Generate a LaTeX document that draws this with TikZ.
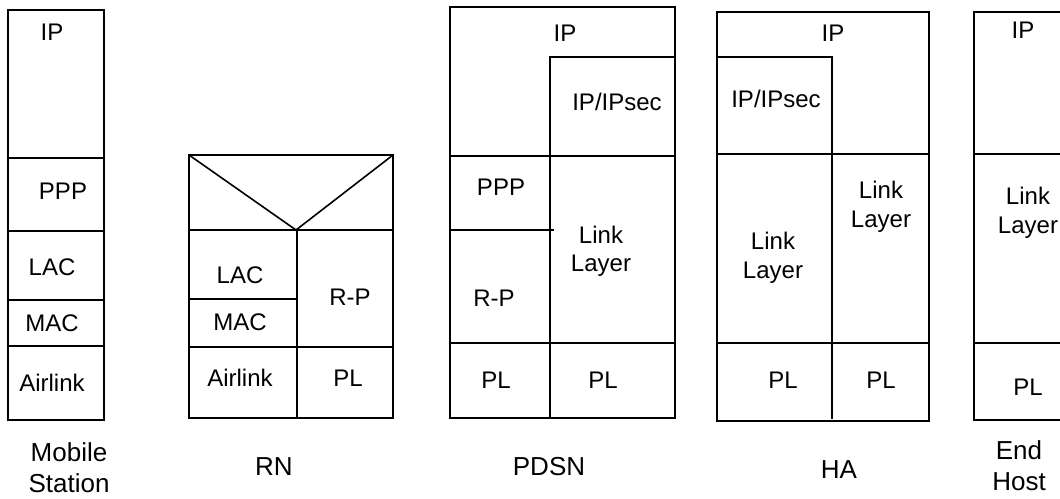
\documentclass[tikz,border=0pt]{standalone}
\usepackage{fontspec}
\setmainfont{Liberation Sans}
\begin{document}
\begin{tikzpicture}[x=1pt,y=-1pt,
  ln/.style={line width=1.6pt, line cap=rect},
  t/.style={inner sep=0pt, font=\fontsize{24}{28.5}\selectfont, align=center},
  lb/.style={inner sep=0pt, font=\fontsize{26}{31}\selectfont, align=center}]
\useasboundingbox (0,0) rectangle (1060,498);
\clip (0,0) rectangle (1060,498);
\fill[white] (0,0) rectangle (1060,498);
% ---------------- Mobile Station
\draw[ln] (8,10) rectangle (104,420);
\draw[ln] (8,158) -- (104,158);
\draw[ln] (8,231) -- (104,231);
\draw[ln] (8,300) -- (104,300);
\draw[ln] (8,346) -- (104,346);
\node[t] (msip) at (52,32) {IP};
\node[t] (msppp) at (63,191) {PPP};
\node[t] (mslac) at (52,267) {LAC};
\node[t] (msmac) at (52,323) {MAC};
\node[t] (msair) at (52,383) {Airlink};
\node[lb] (mslbl) at (69,467.5) {Mobile\\Station};
% ---------------- RN
\draw[ln] (189,155) rectangle (393,418);
\draw[ln] (189,230) -- (393,230);
\draw[ln] (189,155) -- (296,230) -- (393,155);
\draw[ln] (297,230) -- (297,418);
\draw[ln] (189,299) -- (297,299);
\draw[ln] (189,347) -- (393,347);
\node[t] (rnlac) at (240,275) {LAC};
\node[t] (rnmac) at (240,322) {MAC};
\node[t] (rnrp) at (350,297) {R-P};
\node[t] (rnair) at (240,378) {Airlink};
\node[t] (rnpl) at (348,378) {PL};
\node[lb] (rnlbl) at (274,467) {RN};
% ---------------- PDSN
\draw[ln] (450,7) rectangle (675,418);
\draw[ln] (550,57) -- (675,57);
\draw[ln] (550,57) -- (550,418);
\draw[ln] (450,156) -- (675,156);
\draw[ln] (450,230) -- (553,230);
\draw[ln] (450,343) -- (675,343);
\node[t] (pdip) at (565,33) {IP};
\node[t] (pdipsec) at (617,102) {IP/IPsec};
\node[t] (pdppp) at (501,187) {PPP};
\node[t] (pdlink) at (601,251.5) {Link\\Layer};
\node[t] (pdrp) at (494,298) {R-P};
\node[t] (pdpl1) at (496,380) {PL};
\node[t] (pdpl2) at (603,380) {PL};
\node[lb] (pdlbl) at (549,467) {PDSN};
% ---------------- HA
\draw[ln] (717,12) rectangle (929,421);
\draw[ln] (717,57) -- (832,57);
\draw[ln] (832,57) -- (832,418);
\draw[ln] (717,154) -- (929,154);
\draw[ln] (717,343) -- (929,343);
\node[t] (haip) at (833,33) {IP};
\node[t] (haipsec) at (776,99) {IP/IPsec};
\node[t] (halink1) at (773,258) {Link\\Layer};
\node[t] (halink2) at (881,207) {Link\\Layer};
\node[t] (hapl1) at (783,380) {PL};
\node[t] (hapl2) at (881,380) {PL};
\node[lb] (halbl) at (839,470) {HA};
% ---------------- End Host
\draw[ln] (974,12) rectangle (1085,420);
\draw[ln] (974,154) -- (1085,154);
\draw[ln] (974,343) -- (1085,343);
\node[t] (ehip) at (1023,30.5) {IP};
\node[t] (ehlink) at (1028,213) {Link\\Layer};
\node[t] (ehpl) at (1028,387) {PL};
\node[lb] (ehlbl) at (1019,466) {End\\Host};
\end{tikzpicture}
\end{document}
